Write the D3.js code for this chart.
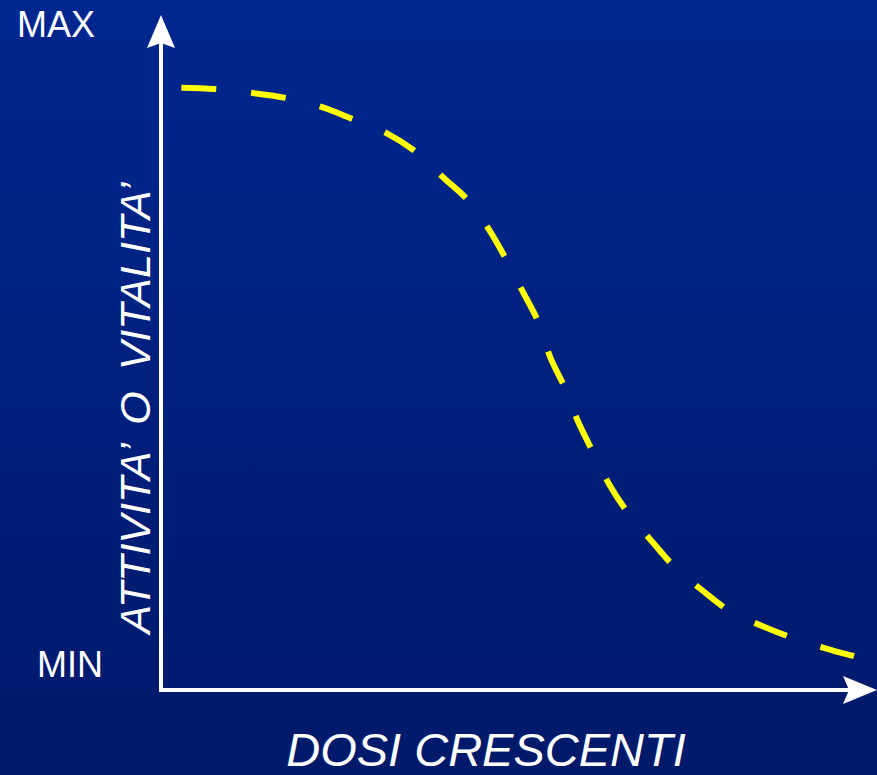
<html>
<head>
<title>Dose-risposta</title>
<script src="https://d3js.org/d3.v7.min.js"></script>
<style>
    body { margin: 0; overflow: hidden; }
    svg { display: block; font-family: "Liberation Sans", Arial, sans-serif; }
    .axis-line { stroke: #fff; stroke-width: 4; fill: none; }
    .arrow { fill: #fff; }
    .curve { stroke: #ffff00; stroke-width: 6; fill: none; stroke-dasharray: 35 35; }
    .label { fill: #fff; }
</style>
</head>
<body>
<div id="chart"></div>
<script>
    // dose (0..100) vs attivita' (0 = MIN, 100 = MAX)
    var dose = [2.9, 7.7, 12.9, 17.9, 22.9, 27.4, 32.4, 36.4, 40.6, 43.7, 46.7, 49.3, 51.7, 53.9,
                55.6, 57.7, 59.6, 61.7, 64.1, 66.7, 70.3, 73.4, 77.4, 81.3, 86.3, 90.6, 95.9, 100];
    var attivita = [90.2, 90.0, 89.4, 88.6, 87.2, 85.3, 83.0, 80.2, 75.9, 72.8, 68.3, 63.4, 58.3, 53.6,
                    48.1, 43.3, 38.0, 33.3, 28.1, 23.8, 19.1, 15.3, 11.6, 8.4, 5.9, 4.1, 2.3, 1.1];
    var yTicks = ["MIN", "MAX"];
    var xTitle = "DOSI CRESCENTI";
    var yTitle = "ATTIVITA’ O VITALITA’";

    var width = 877, height = 775;

    var x = d3.scaleLinear().domain([0, 100]).range([161, 861]);
    var y = d3.scaleLinear().domain([0, 100]).range([665, 25]);

    var x0 = x(0), yBase = 690, yTop = 15, xEnd = width;

    var svg = d3.select("#chart").append("svg")
        .attr("width", width)
        .attr("height", height);

    var grad = svg.append("defs").append("linearGradient")
        .attr("id", "bg").attr("x1", 0).attr("y1", 0).attr("x2", 0).attr("y2", 1);
    grad.append("stop").attr("offset", "0%").attr("stop-color", "#002790");
    grad.append("stop").attr("offset", "100%").attr("stop-color", "#00196a");

    svg.append("rect")
        .attr("width", width).attr("height", height)
        .attr("fill", "url(#bg)");

    /* axes with arrows */
    svg.append("path")
        .attr("class", "axis-line")
        .attr("d", d3.line()([[x0, yTop + 20], [x0, yBase], [xEnd - 20, yBase]]));

    svg.append("path")
        .attr("class", "arrow")
        .attr("d", d3.line()([[x0, yTop], [x0 + 14, yTop + 33], [x0, yTop + 28], [x0 - 14, yTop + 33]]) + "Z");

    svg.append("path")
        .attr("class", "arrow")
        .attr("d", d3.line()([[xEnd, yBase], [xEnd - 34, yBase + 14], [xEnd - 28, yBase], [xEnd - 34, yBase - 14]]) + "Z");

    /* curve */
    var line = d3.line()
        .x(function(d, i) { return x(dose[i]); })
        .y(function(d, i) { return y(attivita[i]); })
        .curve(d3.curveCatmullRom);

    svg.append("path")
        .attr("class", "curve")
        .attr("d", line(dose));

    /* labels */
    svg.append("text")
        .attr("class", "label")
        .attr("x", 17).attr("y", 37)
        .style("font-size", "36px")
        .text(yTicks[1]);

    svg.append("text")
        .attr("class", "label")
        .attr("x", 37).attr("y", 677)
        .style("font-size", "36px")
        .text(yTicks[0]);

    svg.append("text")
        .attr("class", "label")
        .attr("transform", "translate(150,408) rotate(-90)")
        .attr("text-anchor", "middle")
        .style("font-size", "43px")
        .style("word-spacing", "9px")
        .style("font-style", "italic")
        .text(yTitle);

    svg.append("text")
        .attr("class", "label")
        .attr("x", 486).attr("y", 766)
        .attr("text-anchor", "middle")
        .style("font-size", "47px")
        .style("font-style", "italic")
        .text(xTitle);
</script>
</body>
</html>
